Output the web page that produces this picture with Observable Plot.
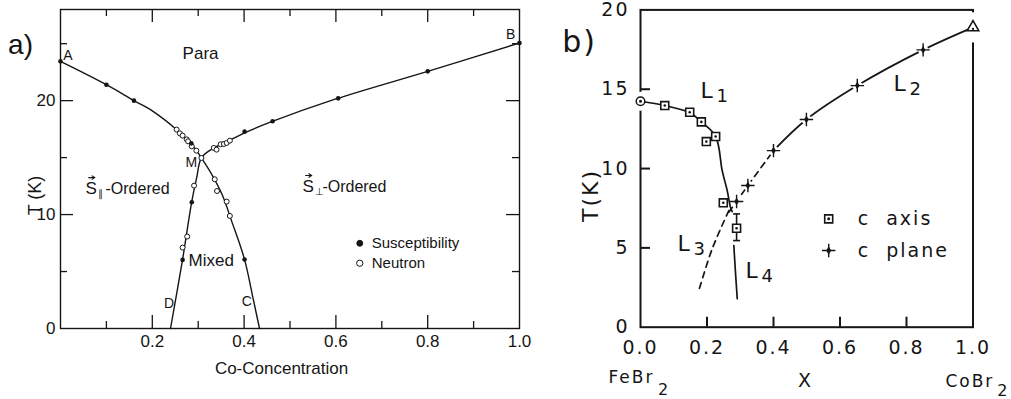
<!DOCTYPE html>
<html><head><meta charset="utf-8">
<script src="https://cdn.jsdelivr.net/npm/d3@7"></script>
<script src="https://cdn.jsdelivr.net/npm/@observablehq/plot@0.6"></script>
<style>
html,body{margin:0;padding:0;background:#fff;width:1011px;height:399px;overflow:hidden;}
#a{position:absolute;left:0;top:0;}
#b{position:absolute;left:545px;top:0;}
</style></head><body><div id="a"></div><div id="b"></div>
<script>
// ---------- Panel a data ----------
const suscX = [0, 0.1, 0.16, 0.285, 0.286, 0.266, 0.401, 0.401, 0.462, 0.605, 0.8, 1.0];
const suscT = [23.45, 21.4, 20.0, 16.25, 11.08, 6.02, 17.28, 6.05, 18.19, 20.2, 22.57, 25.06];
const neutX = [0.253, 0.260, 0.266, 0.275, 0.278, 0.286, 0.296, 0.307, 0.334, 0.340, 0.349, 0.356, 0.362, 0.369, 0.291, 0.276, 0.266, 0.336, 0.341, 0.362, 0.369];
const neutT = [17.46, 17.13, 16.93, 16.60, 16.43, 15.99, 15.61, 14.97, 15.85, 15.70, 16.17, 16.2, 16.29, 16.49, 12.54, 8.07, 7.1, 13.1, 12.07, 11.14, 9.88];
// boundary A-M-C and D-M-B
const amcX = [0, 0.1, 0.16, 0.2, 0.253, 0.28, 0.295, 0.307, 0.331, 0.353, 0.3725, 0.401, 0.4205, 0.4336];
const amcT = [23.45, 21.4, 20.0, 19.1, 17.45, 16.4, 15.7, 14.97, 13.42, 11.67, 9.47, 6.05, 2.46, 0];
const dmbX = [0.2397, 0.2658, 0.2857, 0.2965, 0.307, 0.33, 0.37, 0.40, 0.46, 0.6, 0.8, 1.0];
const dmbT = [0, 6.02, 11.08, 13.2, 14.97, 15.75, 16.55, 17.15, 18.15, 20.15, 22.57, 25.06];
const aMajorX = [0.2, 0.4, 0.6, 0.8], aMinorX = [0.1, 0.3, 0.5, 0.7, 0.9];
const aMajorY = [10, 20], aMinorY = [5, 15, 25];
const aXTickLabels = [0.2, 0.4, 0.6, 0.8, 1.0], aYTickLabels = [0, 10, 20];
const aPointLabels = [
  {text: "A", x: 0.0163, T: 23.95}, {text: "B", x: 0.981, T: 25.79},
  {text: "M", x: 0.285, T: 14.6}, {text: "D", x: 0.2364, T: 2.19}, {text: "C", x: 0.406, T: 2.37}];
const aRegionLabels = [{text: "Para", x: 0.266, T: 24.12}, {text: "Mixed", x: 0.279, T: 5.96}];
const aVecLabels = [{sub: "\u2225", x: 0.0545, T: 12.28}, {sub: "\u22a5", x: 0.527, T: 12.46}];
const aLegend = [{text: "Susceptibility", filled: true, x: 0.652, T: 7.48}, {text: "Neutron", filled: false, x: 0.652, T: 5.73}];

// ---------- Panel b data ----------
const cAxisX = [0.073, 0.148, 0.183, 0.226, 0.198, 0.249, 0.289];
const cAxisT = [13.97, 13.55, 12.94, 12.02, 11.70, 7.84, 6.24];
const errX = [0.289], errLo = [5.46], errHi = [7.14];
const cPlaneX = [0.289, 0.323, 0.40, 0.499, 0.652, 0.85];
const cPlaneT = [7.92, 8.93, 11.13, 13.09, 15.23, 17.48];
const feBr2 = [{x: 0, T: 14.24}], coBr2 = [{x: 1.0, T: 18.9}];
const l1X = [0, 0.073, 0.148, 0.183, 0.226, 0.2457, 0.2608, 0.2707, 0.2757];
const l1T = [14.24, 13.97, 13.52, 12.94, 12.02, 9.87, 8.61, 7.56, 7.29];
const l4X = [0.2807, 0.2856, 0.291], l4T = [5.15, 3.47, 1.79];
const l3X = [0.2657, 0.2156, 0.1754], l3T = [7.35, 4.94, 2.31];
const l2dX = [0.2657, 0.289, 0.323, 0.40], l2dT = [7.25, 7.92, 8.93, 11.13];
const l2X = [0.40, 0.499, 0.652, 0.85, 1.0], l2T = [11.13, 13.09, 15.23, 17.48, 18.9];
const bTicksX = [0.2, 0.4, 0.6, 0.8], bTicksY = [5, 10, 15];
const bXTickLabels = [0, 0.2, 0.4, 0.6, 0.8, 1.0], bYTickLabels = [0, 5, 10, 15, 20];
const bLLabels = [{n: "1", x: 0.1805, T: 14.88}, {n: "2", x: 0.761, T: 15.32}, {n: "3", x: 0.111, T: 5.24}, {n: "4", x: 0.316, T: 3.54}];
const bLegend = [{text: "c\u00a0\u00a0axis", x: 0.566, T: 6.83}, {text: "c\u00a0\u00a0plane", x: 0.566, T: 4.83}];

const pts = (xs, ts) => xs.map((x, i) => ({x, T: ts[i]}));
const ink = "#151515";

// ---------- Panel a ----------
const FA = "'Liberation Sans', Arial, sans-serif";
const WA = 459, HA = 319;
const arrowSymbol = {draw(ctx, size) {
  const r = Math.sqrt(size / Math.PI);
  ctx.moveTo(-r, 0); ctx.lineTo(r, 0);
  ctx.moveTo(r - 3, -2); ctx.lineTo(r, 0); ctx.lineTo(r - 3, 2);
}};
const plotA = Plot.plot({
  width: 545, height: 399,
  marginLeft: 60, marginRight: 26, marginTop: 9, marginBottom: 71,
  x: {domain: [0, 1], label: null},
  y: {domain: [0, 28], label: null},
  style: {fontFamily: FA, background: "white", overflow: "visible", color: ink},
  marks: [
    Plot.frame({stroke: ink, strokeWidth: 1.4}),
    Plot.ruleX(aMajorX, {insetTop: HA - 13, stroke: ink, strokeWidth: 1.3}),
    Plot.ruleX(aMinorX, {insetTop: HA - 7, stroke: ink, strokeWidth: 1.3}),
    Plot.ruleX(aMajorX, {insetBottom: HA - 13, stroke: ink, strokeWidth: 1.3}),
    Plot.ruleX(aMinorX, {insetBottom: HA - 7, stroke: ink, strokeWidth: 1.3}),
    Plot.ruleY(aMajorY, {insetRight: WA - 13, stroke: ink, strokeWidth: 1.3}),
    Plot.ruleY(aMinorY, {insetRight: WA - 7, stroke: ink, strokeWidth: 1.3}),
    Plot.ruleY(aMajorY, {insetLeft: WA - 13, stroke: ink, strokeWidth: 1.3}),
    Plot.ruleY(aMinorY, {insetLeft: WA - 7, stroke: ink, strokeWidth: 1.3}),
    Plot.axisX({ticks: aXTickLabels, tickSize: 0, tickPadding: 6, tickFormat: d => d.toFixed(1), fontSize: 17, label: null}),
    Plot.axisY({ticks: aYTickLabels, tickSize: 0, tickPadding: 5, fontSize: 17, label: null}),
    Plot.line(pts(amcX, amcT), {x: "x", y: "T", curve: "catmull-rom", stroke: ink, strokeWidth: 1.4}),
    Plot.line(pts(dmbX, dmbT), {x: "x", y: "T", curve: "catmull-rom", stroke: ink, strokeWidth: 1.4}),
    Plot.dot(pts(neutX, neutT), {x: "x", y: "T", r: 2.5, fill: "white", stroke: ink, strokeWidth: 1}),
    Plot.dot(pts(suscX, suscT), {x: "x", y: "T", r: 2.3, fill: ink}),
    Plot.text(aPointLabels, {x: "x", y: "T", text: "text", fontSize: 14}),
    Plot.text(aRegionLabels, {x: "x", y: "T", text: "text", textAnchor: "start", fontSize: 17}),
    Plot.text(aVecLabels, {x: "x", y: "T", text: () => "S", textAnchor: "start", fontSize: 17}),
    Plot.text(aVecLabels, {x: "x", y: "T", text: "sub", textAnchor: "start", dx: 12.5, dy: 5, fontSize: 10}),
    Plot.text(aVecLabels, {x: "x", y: "T", text: () => "-Ordered", textAnchor: "start", dx: 20, fontSize: 16}),
    Plot.dot(aVecLabels, {x: "x", y: "T", symbol: arrowSymbol, r: 3.2, dx: 6, dy: -11, stroke: ink, strokeWidth: 1.1}),
    Plot.dot(aLegend, {x: "x", y: "T", r: d => d.filled ? 2.2 : 2.5, fill: d => d.filled ? ink : "white", stroke: ink, strokeWidth: 1}),
    Plot.text(aLegend, {x: "x", y: "T", text: "text", textAnchor: "start", dx: 12, fontSize: 15}),
    Plot.text(["Co-Concentration"], {x: 0.4815, y: -3.51, text: d => d, fontSize: 17}),
    Plot.text(["T (K)"], {x: -0.0545, y: 11.67, text: d => d, rotate: -90, fontSize: 18}),
    Plot.text(["a)"], {x: -0.087, y: 24.9, text: d => d, fontSize: 28})
  ]
});
document.getElementById("a").appendChild(plotA);

// ---------- Panel b ----------
const FB = "'DejaVu Sans', sans-serif";
const WB = 332.5, HB = 317.3;
const capSymbol = {draw(ctx, size) { const r = Math.sqrt(size / Math.PI); ctx.moveTo(-r, 0); ctx.lineTo(r, 0); }};
const plotB = Plot.plot({
  width: 466, height: 399,
  marginLeft: 95, marginRight: 38.5, marginTop: 9.4, marginBottom: 72.3,
  x: {domain: [0, 1], label: null},
  y: {domain: [0, 20], label: null},
  style: {fontFamily: FB, background: "white", overflow: "visible", letterSpacing: "2px", color: ink},
  marks: [
    Plot.frame({stroke: ink, strokeWidth: 2}),
    Plot.dot(feBr2, {x: "x", y: "T", r: 9.5, fill: "white"}),
    Plot.dot(coBr2, {x: "x", y: "T", symbol: "square", r: 17, fill: "white"}),
    Plot.ruleX(bTicksX, {insetTop: HB - 10, stroke: ink, strokeWidth: 2}),
    Plot.ruleY(bTicksY, {insetRight: WB - 10, stroke: ink, strokeWidth: 2}),
    Plot.axisX({ticks: bXTickLabels, tickSize: 0, tickPadding: 13, tickFormat: d => d.toFixed(1), fontSize: 19, label: null}),
    Plot.axisY({ticks: bYTickLabels, tickSize: 0, tickPadding: 11, fontSize: 19, label: null}),
    Plot.line(pts(l1X, l1T), {x: "x", y: "T", curve: "catmull-rom", stroke: ink, strokeWidth: 1.7}),
    Plot.line(pts(l4X, l4T), {x: "x", y: "T", curve: "catmull-rom", stroke: ink, strokeWidth: 1.7}),
    Plot.line(pts(l3X, l3T), {x: "x", y: "T", curve: "catmull-rom", stroke: ink, strokeWidth: 1.7, strokeDasharray: "6,5"}),
    Plot.line(pts(l2dX, l2dT), {x: "x", y: "T", curve: "catmull-rom", stroke: ink, strokeWidth: 1.7, strokeDasharray: "6,5"}),
    Plot.line(pts(l2X, l2T), {x: "x", y: "T", curve: "catmull-rom", stroke: ink, strokeWidth: 1.7}),
    Plot.ruleX(errX.map((x, i) => ({x, lo: errLo[i], hi: errHi[i]})), {x: "x", y1: "lo", y2: "hi", stroke: ink, strokeWidth: 1.6}),
    Plot.dot(errX.map((x, i) => ({x, T: errLo[i]})), {x: "x", y: "T", symbol: capSymbol, r: 3.5, stroke: ink, strokeWidth: 1.6}),
    Plot.dot(errX.map((x, i) => ({x, T: errHi[i]})), {x: "x", y: "T", symbol: capSymbol, r: 3.5, stroke: ink, strokeWidth: 1.6}),
    // c plane markers
    Plot.dot(pts(cPlaneX, cPlaneT), {x: "x", y: "T", r: 5, fill: "white"}),
    Plot.dot(pts(cPlaneX, cPlaneT), {x: "x", y: "T", symbol: "plus", r: 4.4, stroke: ink, strokeWidth: 1.4}),
    Plot.dot(pts(cPlaneX, cPlaneT), {x: "x", y: "T", symbol: "diamond", r: 2.4, fill: ink}),
    // c axis markers
    Plot.dot(pts(cAxisX, cAxisT), {x: "x", y: "T", symbol: "square", r: 4.5, fill: "white", stroke: ink, strokeWidth: 1.6}),
    Plot.dot(pts(cAxisX, cAxisT), {x: "x", y: "T", r: 1.3, fill: ink}),
    // end members
    Plot.dot(feBr2, {x: "x", y: "T", r: 4.3, fill: "white", stroke: ink, strokeWidth: 1.5}),
    Plot.dot(feBr2, {x: "x", y: "T", r: 1.5, fill: ink}),
    Plot.dot(coBr2, {x: "x", y: "T", symbol: "triangle2", r: 5.5, fill: "white", stroke: ink, strokeWidth: 1.6}),
    Plot.dot(coBr2, {x: "x", y: "T", r: 1.2, dy: 1.5, fill: ink}),
    // legend
    Plot.dot(bLegend.slice(0, 1), {x: "x", y: "T", symbol: "square", r: 4.5, fill: "white", stroke: ink, strokeWidth: 1.6}),
    Plot.dot(bLegend.slice(0, 1), {x: "x", y: "T", r: 1.5, fill: ink}),
    Plot.dot(bLegend.slice(1), {x: "x", y: "T", symbol: "plus", r: 4.4, stroke: ink, strokeWidth: 1.4}),
    Plot.dot(bLegend.slice(1), {x: "x", y: "T", symbol: "diamond", r: 2.6, fill: ink}),
    Plot.text(bLegend, {x: "x", y: "T", text: "text", textAnchor: "start", dx: 29, fontSize: 19}),
    // L labels
    Plot.text(bLLabels, {x: "x", y: "T", text: () => "L", textAnchor: "start", fontSize: 22}),
    Plot.text(bLLabels, {x: "x", y: "T", text: "n", textAnchor: "start", dx: 16, dy: 5, fontSize: 18}),
    // outer texts
    Plot.text(["FeBr"], {x: -0.0962, y: -3.2, text: d => d, textAnchor: "start", fontSize: 17}),
    Plot.text(["2"], {x: 0.053, y: -3.95, text: d => d, textAnchor: "start", fontSize: 16}),
    Plot.text(["X"], {x: 0.496, y: -3.37, text: d => d, fontSize: 19}),
    Plot.text(["CoBr"], {x: 0.917, y: -3.45, text: d => d, textAnchor: "start", fontSize: 17}),
    Plot.text(["2"], {x: 1.073, y: -4.0, text: d => d, textAnchor: "start", fontSize: 16}),
    Plot.text(["T(K)"], {x: -0.15, y: 8.3, text: d => d, rotate: -90, fontSize: 22}),
    Plot.text(["b)"], {x: -0.183, y: 17.94, text: d => d, fontSize: 30})
  ]
});
document.getElementById("b").appendChild(plotB);
</script></body></html>
